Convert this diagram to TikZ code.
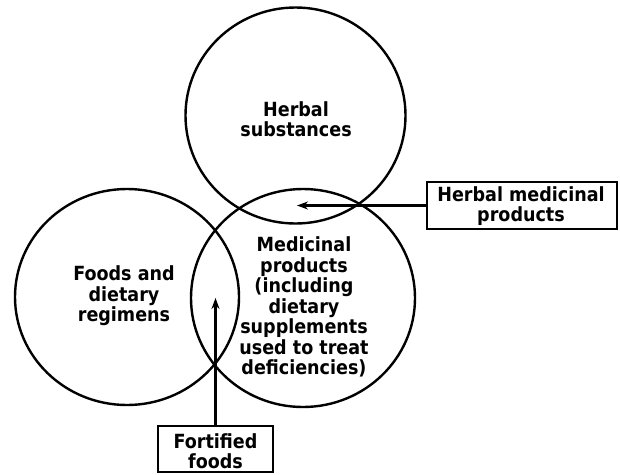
\documentclass[tikz,border=0pt]{standalone}
\usepackage{fontspec}
\setmainfont{DejaVu Sans Condensed}
\usetikzlibrary{shapes.geometric,arrows.meta}
\tikzset{
  ring/.style={draw, ellipse, line width=2.4pt, inner sep=0pt, outer sep=0pt},
  labelbox/.style={draw, rectangle, line width=2.2pt, inner sep=0pt, outer sep=0pt},
  txt/.style={align=center, font=\bfseries\fontsize{19.5}{20.5}\selectfont, inner sep=0pt},
  conn/.style={line width=2.2pt, -{Stealth[length=11pt,width=8pt]}}
}
\begin{document}
\begin{tikzpicture}[x=1pt,y=-1pt]
\useasboundingbox (0,0) rectangle (620,474);
\node[ring, minimum width=220pt, minimum height=216pt] (top) at (295.5,115.5) {};
\node[ring, minimum width=224pt, minimum height=216pt] (left) at (127,297) {};
\node[ring, minimum width=224pt, minimum height=218pt] (right) at (303,298) {};
\node[txt] (ttop) at (296,119) {Herbal\\substances};
\node[txt] (tleft) at (124,296) {Foods and\\dietary\\regimens};
\node[txt] (tright) at (304,307) {Medicinal\\products\\(including\\dietary\\supplements\\used to treat\\deficiencies)};
\node[labelbox, minimum width=190pt, minimum height=47pt] (hbox) at (522,205.5) {};
\node[txt] (htxt) at (521,206) {Herbal medicinal\\products};
\node[labelbox, minimum width=115pt, minimum height=46pt] (fbox) at (215.5,449) {};
\node[txt] (ftxt) at (215.5,451) {Fortified\\foods};
\coordinate (htip) at (297,205.5);
\coordinate (ftip) at (215.5,298);
\draw[conn] (hbox.west) -- (htip);
\draw[conn] (fbox.north) -- (ftip);
\end{tikzpicture}
\end{document}
